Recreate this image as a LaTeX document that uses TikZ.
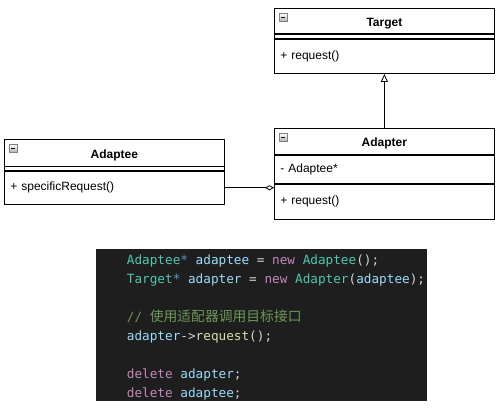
\documentclass[tikz,border=0pt]{standalone}
\usepackage{fontspec}
\setmainfont{Liberation Sans}
\setmonofont{DejaVu Sans Mono}
\newfontfamily\cjk{Noto Sans CJK SC}
\usetikzlibrary{arrows.meta,positioning}

\definecolor{vsBg}{HTML}{1E1E1E}
\definecolor{vsType}{HTML}{4EC9B0}
\definecolor{vsVar}{HTML}{9CDCFE}
\definecolor{vsKey}{HTML}{C586C0}
\definecolor{vsPunct}{HTML}{D4D4D4}
\definecolor{vsFunc}{HTML}{DCDCAA}
\definecolor{vsStar}{HTML}{569CD6}
\definecolor{vsComment}{HTML}{6A9955}

\newcommand{\ty}[1]{\textcolor{vsType}{#1}}
\newcommand{\va}[1]{\textcolor{vsVar}{#1}}
\newcommand{\kw}[1]{\textcolor{vsKey}{#1}}
\newcommand{\pu}[1]{\textcolor{vsPunct}{#1}}
\newcommand{\fn}[1]{\textcolor{vsFunc}{#1}}
\newcommand{\st}[1]{\textcolor{vsStar}{#1}}

\tikzstyle{classname} = [rectangle, draw=black, line width=0.8pt,
                      minimum width=220pt, inner sep=0pt,
                      text height=11pt, text depth=0pt,
                      font=\fontsize{12}{14}\selectfont\bfseries,
                      anchor=north west]
\tikzstyle{members} = [rectangle, draw=black, line width=0.8pt,
                      minimum width=220pt, text width=208pt,
                      inner xsep=6pt, inner ysep=0pt, align=left,
                      font=\fontsize{12}{14}\selectfont]
\tikzstyle{foldicon} = [rectangle, draw=gray, line width=0.5pt,
                      minimum size=8pt, inner sep=0pt,
                      text height=0pt, text depth=0pt,
                      top color=white, bottom color=gray!60,
                      anchor=north west]
\tikzstyle{codebox} = [rectangle, fill=vsBg, minimum width=330.7pt,
                      minimum height=151.7pt, anchor=north west]

\begin{document}
\begin{tikzpicture}[x=1pt, y=-1pt]
  \useasboundingbox (0,0) rectangle (504,413);

  % Target
  \node (target) [classname, minimum height=25pt] at (274,8) {Target};
  \node (target-attr) [members, minimum height=4.5pt, below=0pt of target] {};
  \node (target-ops) [members, minimum height=34pt, below=0pt of target-attr] {
    + request()
  };
  \node (target-icon) [foldicon] at ([xshift=5pt, yshift=-5pt]target.north west)
    {\rule[-0.6pt]{4pt}{1.2pt}};

  % Adapter
  \node (adapter) [classname, minimum height=26pt] at (274,128) {Adapter};
  \node (adapter-attr) [members, minimum height=28pt, below=0pt of adapter] {
    - Adaptee*
  };
  \node (adapter-ops) [members, minimum height=35pt, below=0pt of adapter-attr] {
    + request()
  };
  \node (adapter-icon) [foldicon] at ([xshift=5pt, yshift=-5pt]adapter.north west)
    {\rule[-0.6pt]{4pt}{1.2pt}};

  % Adaptee
  \node (adaptee) [classname, minimum height=26.5pt] at (4,139) {Adaptee};
  \node (adaptee-attr) [members, minimum height=3.5pt, below=0pt of adaptee] {};
  \node (adaptee-ops) [members, minimum height=33.5pt, below=0pt of adaptee-attr] {
    + specificRequest()
  };
  \node (adaptee-icon) [foldicon] at ([xshift=5pt, yshift=-5pt]adaptee.north west)
    {\rule[-0.6pt]{4pt}{1.2pt}};

  \draw[line width=0.8pt, -{Triangle[open, length=8pt, width=7pt]}]
    (adapter.north) to (target-ops.south);
  \draw[line width=0.8pt, -{Diamond[open, length=9pt, width=5pt]}]
    (adaptee-ops.east) to (adaptee-ops.east -| adapter-attr.west);

  % client code
  \node (codebg) [codebox] at (96,249) {};
  \node (listing) [anchor=north west, inner sep=0pt, align=left,
                   font=\fontsize{12.7}{18.9}\ttfamily]
    at ([xshift=30.7pt, yshift=-6pt]codebg.north west) {
    \ty{Adaptee}\st{*} \va{adaptee} \pu{=} \kw{new} \ty{Adaptee}\pu{();}\\
    \ty{Target}\st{*} \va{adapter} \pu{=} \kw{new} \ty{Adapter}\pu{(}\va{adaptee}\pu{);}\\
    \mbox{}\\
    \textcolor{vsComment}{// {\cjk\fontsize{13.8}{18.9}\selectfont 使用适配器调用目标接口}}\\
    \va{adapter}\pu{->}\fn{request}\pu{();}\\
    \mbox{}\\
    \kw{delete} \va{adapter}\pu{;}\\
    \kw{delete} \va{adaptee}\pu{;}
  };

\end{tikzpicture}
\end{document}
